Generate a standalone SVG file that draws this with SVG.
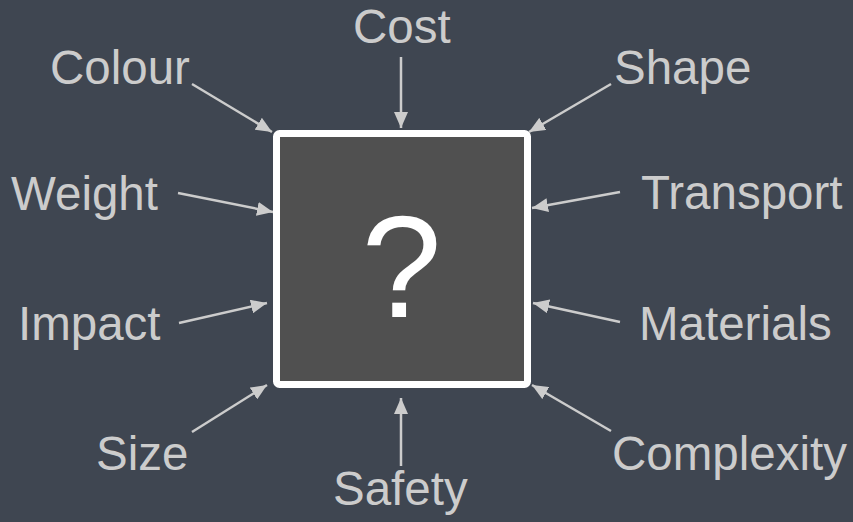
<svg xmlns="http://www.w3.org/2000/svg" width="853" height="522" viewBox="0 0 853 522">
<defs>
<style>
.lbl{font-family:"Liberation Sans",Arial,sans-serif;font-size:47.5px;fill:#cccccc}
.q{font-family:"Liberation Sans",Arial,sans-serif;font-size:144px;fill:#ffffff}
.arr{stroke:#cccccc;stroke-width:2.5;fill:none;marker-end:url(#ah)}
</style>
<marker id="ah" markerUnits="userSpaceOnUse" markerWidth="17" markerHeight="14" refX="16" refY="7" orient="auto">
<path d="M0,0 L16,7 L0,14 z" fill="#cccccc"/>
</marker>
</defs>
<rect width="853" height="522" fill="#3f4651"/>
<g id="connectors">
<line class="arr" x1="401" y1="57" x2="401" y2="128"/>
<line class="arr" x1="192" y1="84" x2="272" y2="132"/>
<line class="arr" x1="611" y1="84" x2="529" y2="132"/>
<line class="arr" x1="178" y1="193" x2="273" y2="212"/>
<line class="arr" x1="620" y1="192" x2="532" y2="208"/>
<line class="arr" x1="179" y1="323" x2="267" y2="303"/>
<line class="arr" x1="620" y1="322" x2="533" y2="303"/>
<line class="arr" x1="192" y1="432" x2="267" y2="385"/>
<line class="arr" x1="611" y1="431" x2="532" y2="385"/>
<line class="arr" x1="401" y1="466" x2="401" y2="398"/>
</g>
<g id="center">
<rect x="276.5" y="133.5" width="251" height="251" rx="3" fill="#505050" stroke="#ffffff" stroke-width="7"/>
<text class="q" x="401.5" y="317" text-anchor="middle">?</text>
</g>
<g id="cost"><text class="lbl" x="353" y="43">Cost</text></g>
<g id="colour"><text class="lbl" x="50" y="84">Colour</text></g>
<g id="shape"><text class="lbl" x="614" y="84">Shape</text></g>
<g id="weight"><text class="lbl" x="11" y="210">Weight</text></g>
<g id="transport"><text class="lbl" x="641" y="209">Transport</text></g>
<g id="impact"><text class="lbl" x="18" y="340">Impact</text></g>
<g id="materials"><text class="lbl" x="639" y="340">Materials</text></g>
<g id="size"><text class="lbl" x="96" y="470">Size</text></g>
<g id="safety"><text class="lbl" x="333" y="505">Safety</text></g>
<g id="complexity"><text class="lbl" x="612" y="470">Complexity</text></g>
</svg>
